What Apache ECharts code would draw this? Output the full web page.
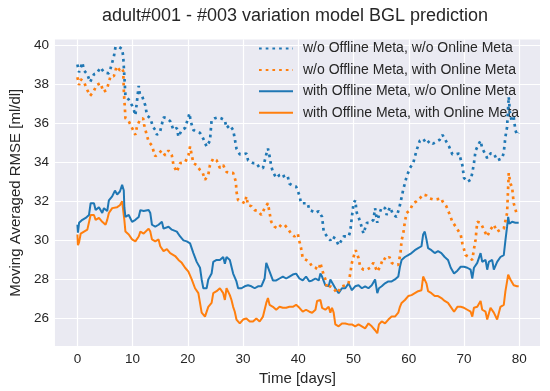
<!DOCTYPE html>
<html>
<head>
<meta charset="utf-8">
<script src="https://cdn.jsdelivr.net/npm/echarts@6/dist/echarts.min.js"></script>
<style>html,body{margin:0;padding:0;background:#fff}#c{width:550px;height:391px}</style>
</head>
<body>
<div id="c"></div>
<script>
// ---- data ----
const xTicks = [0, 10, 20, 30, 40, 50, 60, 70, 80];
const yTicks = [26, 28, 30, 32, 34, 36, 38, 40];
const seriesNames = [
  'w/o Offline Meta, w/o Online Meta',
  'w/o Offline Meta, with Online Meta',
  'with Offline Meta, w/o Online Meta',
  'with Offline Meta, with Online Meta'
];

// w/o Offline, w/o Online (blue dotted)
const aDays = [0,0.3,0.9,1.2,1.8,2.3,3,3.5,4.2,4.8,5.1,5.7,6,6.6,6.9,7.5,8.1,8.3,8.4,8.5,8.6,8.7,9.3,9.9,10.2,10.5,11.1,11.3,11.7,12.3,12.6,13.2,13.7,14.1,14.4,15,15.6,16.2,16.8,17.4,18,18.3,18.9,19.5,20.3,20.5,21,21.6,22.2,22.8,23.4,24,24.3,24.9,25.5,26,26.7,27,27.6,28.2,28.5,28.8,29.4,30,30.6,30.9,31.2,31.8,32.4,33,33.6,34.2,34.5,34.8,35.1,35.4,36,36.6,37.2,37.5,38.1,38.4,39,39.6,40.2,40.5,41.1,41.7,42,42.5,43.1,43.7,44.3,44.6,45.2,45.8,46.1,46.7,47.3,47.6,48.2,48.5,49.1,49.4,49.7,50,50.3,50.6,50.9,51.2,51.8,52.4,53,53.6,53.9,54.3,54.6,55.1,55.7,56,56.6,57.2,57.8,58.4,59,59.6,60.2,60.8,61.4,62,62.6,63.2,63.8,64.4,65,65.6,66.1,66.8,67.3,67.9,68.5,69.1,69.7,70,70.6,71.2,71.5,71.8,72.1,72.7,73,73.3,73.9,74.2,74.8,75.4,76,76.9,77.2,77.5,77.8,78,78.1,78.3,78.6,79,79.3,79.6,79.9];
const aVals = [39.0,38.6,39.1,38.7,38.5,38.1,38.5,38.55,38.85,38.6,38.7,38.55,38.8,39.4,39.9,39.9,39.8,39.4,38.9,38.4,37.9,37.4,37.2,36.9,36.7,36.4,37.9,37.5,37.4,36.9,36.4,36.25,35.8,35.65,35.4,35.6,36.3,36.25,36.1,35.65,35.75,35.3,35.65,35.75,36.5,36.1,35.65,35.55,35.5,35.2,34.8,35.1,36.15,36.25,36.3,36.25,36.15,35.75,35.9,35.65,35.2,34.7,34.4,34.4,34.45,34.1,34.2,33.95,33.95,33.7,33.7,34.4,34.7,34.3,33.8,33.5,33.2,33.35,33.4,33.2,33.25,32.9,32.8,32.75,32.3,31.9,31.9,31.9,31.55,31.5,31.4,31.5,31.2,30.45,30.2,30.0,30.2,30.1,29.75,29.7,30.2,30.1,30.2,30.45,31.2,31.9,32.05,31.4,31.2,30.95,30.35,30.9,30.9,31.05,31.65,30.9,31.3,31.7,31.65,31.3,31.7,31.3,31.2,31.8,32.6,33.25,33.7,33.95,34.6,35.1,35.2,34.95,35.1,34.95,35.05,35.15,35.4,35.05,34.8,34.4,34.4,34.45,33.85,33.2,33.0,33.1,33.45,33.95,34.6,34.95,35.1,34.7,34.4,34.2,34.45,34.45,34.1,34.2,34.5,35.3,35.8,36.85,37.35,36.6,36.15,36.3,35.65,35.4,35.5];

// w/o Offline, with Online (orange dotted)
const bDays = [0,0.3,0.6,1.2,1.7,2.3,2.9,3.5,4.2,4.7,5.3,6,6.6,7.1,7.7,8.1,8.3,8.4,8.5,8.6,8.7,9.3,9.9,10.5,10.8,11.3,11.9,12.1,12.5,12.9,13.5,13.8,14.1,14.7,15.3,15.9,16.5,17.1,17.4,18,18.6,19.5,20.1,20.4,21,21.6,22.2,22.7,23.1,23.7,24,24.6,25.2,25.8,26.4,27,27.6,28.2,28.7,28.8,29.1,29.7,30.3,30.6,30.9,31.5,32.1,32.7,33.3,33.6,33.9,34.5,34.8,35.1,35.7,36.3,36.9,37.5,38.1,38.7,39.3,39.9,40.2,40.5,40.8,41.4,42,42.5,43.1,43.7,44,44.3,44.9,45.2,45.8,46.4,47,47.3,47.9,48.5,49.1,49.4,49.7,50.2,50.4,50.9,51.2,51.8,52.4,53,53.6,53.9,54.3,54.8,55.4,56,56.5,56.9,57.5,58.1,58.5,58.7,59,59.3,59.6,60.2,60.8,61.4,62,62.6,63.2,63.8,64.4,65,65.9,66.1,66.8,67.3,67.9,68.5,69.4,69.7,70.3,70.9,71.5,71.8,72.1,72.4,73,73.6,74.2,74.8,75.4,76,76.6,77.2,77.5,77.8,78,78.1,78.4,78.7,79,79.3,79.6];
const bVals = [38.35,37.95,38.25,38.1,37.75,37.4,37.6,37.95,38.05,37.6,37.7,38.4,38.4,38.9,38.7,38.8,38.65,37.7,37.2,36.75,36.25,36.1,35.75,35.4,35.85,36.15,36.25,35.9,35.45,35.05,34.85,34.55,34.3,34.45,34.6,34.35,34.6,34.35,33.85,33.5,33.95,34.0,34.35,34.8,33.95,33.85,33.6,33.45,33.1,33.35,33.85,34.2,34.1,33.7,33.85,33.5,33.45,33.45,33.0,32.5,32.05,32.0,31.9,32.25,31.8,31.75,31.55,31.5,31.3,31.3,31.65,31.9,31.4,30.95,30.7,30.6,30.8,30.8,30.6,30.35,30.2,30.35,29.95,29.6,29.1,29.0,28.9,28.65,28.6,28.5,28.85,28.5,28.0,27.55,27.65,27.55,27.3,27.2,27.65,27.7,27.8,28.3,28.85,29.35,29.5,29.1,28.65,28.5,28.5,28.6,28.85,28.9,28.4,28.65,29.1,29.0,29.15,28.85,28.75,28.75,29.35,30.0,30.35,30.95,31.4,31.55,31.9,32.0,32.15,32.35,32.3,32.15,32.1,32.1,32.15,32.0,31.75,31.4,30.95,30.7,30.3,29.85,29.25,29.15,29.0,29.55,30.05,30.95,30.9,30.55,30.2,30.55,30.8,30.45,30.55,30.6,30.7,31.4,32.75,33.45,32.9,32.75,31.9,31.8,31.3];

// with Offline, w/o Online (blue solid)
const cDays = [0,0.1,0.3,0.9,1.5,2.1,2.4,3,3.3,3.9,4.5,4.8,5.4,5.7,6.3,6.8,7.2,7.7,8.1,8.4,8.5,8.7,9.3,9.9,10.5,11.1,11.4,12,12.9,13.2,13.5,14.1,14.7,15.3,15.6,16.5,17.1,18,18.6,19.2,19.8,20.4,21,21.6,22.2,22.5,22.8,23.4,23.7,24.3,24.6,25.2,25.8,26.4,26.7,27,27.6,27.9,28.2,28.8,29.1,29.7,30.3,30.9,31.5,32.1,32.7,33.3,33.9,34.2,34.5,34.8,35.4,36,36.6,37.2,37.8,38.4,39,39.6,40.2,40.8,41.4,42,42.5,43.1,43.7,44,44.3,44.9,45.5,45.8,46.1,46.7,47.3,47.9,48.5,49.1,49.7,50.3,50.9,51.5,52.1,52.7,53.3,53.9,54.3,54.6,55.1,55.7,56.3,56.9,57.5,58.1,58.4,58.7,59.3,59.9,60.5,61.1,61.7,62.3,62.6,62.9,63.2,63.5,64.1,64.7,65.3,65.9,66.5,67.1,67.6,68.2,68.8,69.4,70,70.6,71.2,71.5,71.8,72.4,73,73.3,73.9,74.2,74.5,75.1,75.4,76,76.6,77.2,77.5,77.8,78,78.2,78.7,79.3,79.9];
const cVals = [30.8,30.4,30.9,31.05,31.15,31.3,31.9,31.9,31.55,31.7,31.4,31.65,31.5,32.05,32.25,32.55,32.35,32.5,32.85,32.55,31.7,31.2,31.3,30.95,31.05,31.2,31.55,31.5,31.55,31.4,30.8,30.7,30.8,30.95,30.6,30.7,30.55,30.45,30.2,30.0,29.95,29.85,29.35,28.9,28.6,28.0,27.55,27.55,28.0,28.3,28.9,29.0,29.0,29.15,28.8,29.15,29.0,28.65,28.3,27.9,27.55,27.55,27.65,27.7,27.65,27.55,27.65,27.65,28.05,28.85,28.9,28.4,27.95,27.95,28.05,28.15,28.05,28.15,28.25,28.3,28.05,27.95,28.15,27.9,27.95,28.05,27.95,28.3,28.15,27.7,27.65,28.0,27.9,27.55,27.3,27.55,27.55,27.8,27.45,27.65,27.7,27.55,27.65,27.55,27.7,28.0,27.3,27.55,27.65,27.8,27.9,27.9,28.0,28.15,28.65,29.0,29.15,29.25,29.35,29.5,29.6,29.7,30.3,30.45,30.05,29.6,29.5,29.35,29.45,29.35,29.15,29.0,28.6,28.3,28.45,28.65,28.65,28.6,28.5,28.05,28.6,28.85,29.35,28.9,29.0,28.5,28.9,29.0,28.5,28.9,29.15,29.25,30.0,30.7,31.2,30.85,30.95,30.9,30.9];

// with Offline, with Online (orange solid)
const dDays = [0,0.1,0.3,0.6,1.2,1.8,2.4,3,3.3,3.9,4.5,5.1,5.4,5.7,6.3,6.6,7.2,7.7,8.1,8.4,8.5,8.7,9.3,9.9,10.5,11.1,11.4,12,12.9,13.2,13.5,14.1,14.7,15,15.6,16.2,16.8,17.7,18.3,18.9,19.5,20.1,20.7,21.3,21.9,22.2,22.5,23.1,23.4,23.7,24.3,24.6,25.2,25.8,26.4,26.7,27,27.6,27.9,28.2,28.5,28.8,29.4,30,30.6,31.2,31.8,32.4,33,33.6,34.2,34.5,34.8,35.4,36,36.6,37.2,37.8,38.4,39,39.6,40.2,40.8,41.4,42,42.5,43.1,43.4,44,44.3,44.9,45.5,45.8,46.1,46.4,46.7,47.3,47.9,48.5,49.1,49.7,50.3,50.9,51.5,52.1,52.7,53.3,53.9,54.3,54.6,55.1,55.7,56.3,56.9,57.5,58.1,58.4,58.7,59.3,59.9,60.5,61.1,61.7,62.3,62.6,62.9,63.2,63.5,64.1,64.7,65.3,65.9,66.5,67.1,67.6,68.2,68.8,69.4,70,70.6,71.2,71.5,71.8,72.4,73,73.3,73.9,74.2,74.8,75.4,76,76.6,77.2,77.5,77.8,78,78.4,79,79.6,79.9];
const dVals = [30.3,29.75,29.9,30.35,30.45,30.55,31.3,31.3,31.05,31.15,30.95,30.8,31.05,31.4,31.65,31.55,31.7,31.8,32.0,31.9,31.05,30.45,30.3,30.05,29.95,30.2,30.45,30.35,30.6,30.45,30.05,29.95,30.05,29.7,29.45,29.55,29.35,29.2,29.0,28.85,28.6,28.4,28.0,27.55,27.3,26.8,26.3,26.1,26.2,26.6,26.8,27.3,27.4,27.55,27.3,26.95,27.55,27.2,26.95,26.6,26.35,25.95,25.75,25.95,26.0,25.85,25.85,26.0,25.85,26.1,26.8,27.05,26.7,26.6,26.45,26.6,26.55,26.55,26.6,26.6,26.7,26.55,26.35,26.45,26.35,26.3,26.45,26.9,26.95,26.55,26.45,26.6,26.3,26.55,26.3,25.7,25.6,25.75,25.75,25.7,25.7,25.6,25.7,25.6,25.5,25.75,25.6,25.4,25.25,25.7,25.85,25.75,25.95,26.1,26.1,26.3,26.6,26.8,26.95,27.15,27.2,27.3,27.4,27.45,28.15,28.2,27.8,27.4,27.3,27.15,27.15,27.05,26.9,26.8,26.6,26.35,26.6,26.6,26.55,26.45,26.35,26.1,26.55,26.6,26.9,26.45,26.35,25.95,26.55,26.3,25.95,26.6,26.7,27.4,27.9,28.25,28.0,27.7,27.65,27.65];

const pair = (xs, ys) => xs.map((x, i) => [x, ys[i]]);

const BLUE = '#1f77b4', ORANGE = '#ff7f0e';
const FONT = "'Liberation Sans', Arial, sans-serif";
const TXT = '#262626';

const chart = echarts.init(document.getElementById('c'), null, {renderer: 'canvas'});
const dotted = {type: [2.7, 4], width: 2.7, cap: 'butt'};
chart.setOption({
  backgroundColor: '#ffffff',
  animation: false,
  textStyle: {fontFamily: FONT},
  title: {
    text: 'adult#001 - #003 variation model BGL prediction',
    left: 295, top: 7, padding: 0, textAlign: 'center',
    textStyle: {fontFamily: FONT, fontSize: 18, fontWeight: 'normal', color: TXT}
  },
  legend: {
    left: 258, top: 41.5, orient: 'vertical', padding: 0,
    itemWidth: 34, itemHeight: 14, itemGap: 7.4,
    itemStyle: {color: 'transparent', borderWidth: 0, opacity: 0},
    textStyle: {fontFamily: FONT, fontSize: 14, color: TXT, padding: [0, 0, 0, 5]},
    data: seriesNames
  },
  grid: {left: 50, right: 10, top: 39.5, bottom: 44, show: true, backgroundColor: '#EAEAF2', borderWidth: 0},
  xAxis: {
    type: 'value', min: -4.07, max: 83.76,
    name: 'Time [days]', nameLocation: 'middle', nameGap: 24,
    nameTextStyle: {fontFamily: FONT, fontSize: 15, color: TXT},
    axisLine: {show: false}, axisTick: {show: false, customValues: xTicks},
    axisLabel: {customValues: xTicks, fontFamily: FONT, fontSize: 13.5, color: TXT, margin: 6},
    splitLine: {show: true, lineStyle: {color: '#ffffff', width: 1.2}}
  },
  yAxis: {
    type: 'value', min: 24.59, max: 40.28,
    name: 'Moving Averaged RMSE [ml/dl]', nameLocation: 'middle', nameGap: 28,
    nameTextStyle: {fontFamily: FONT, fontSize: 15, color: TXT},
    axisLine: {show: false}, axisTick: {show: false, customValues: yTicks},
    axisLabel: {customValues: yTicks, fontFamily: FONT, fontSize: 13.5, color: TXT, margin: 6},
    splitLine: {show: true, lineStyle: {color: '#ffffff', width: 1.2}}
  },
  series: [
    {name: seriesNames[0], type: 'line', symbol: 'none', data: pair(aDays, aVals), color: BLUE, lineStyle: Object.assign({color: BLUE}, dotted), z: 4},
    {name: seriesNames[1], type: 'line', symbol: 'none', data: pair(bDays, bVals), color: ORANGE, lineStyle: Object.assign({color: ORANGE}, dotted), z: 3},
    {name: seriesNames[2], type: 'line', symbol: 'none', data: pair(cDays, cVals), color: BLUE, lineStyle: {color: BLUE, width: 2}, z: 2},
    {name: seriesNames[3], type: 'line', symbol: 'none', data: pair(dDays, dVals), color: ORANGE, lineStyle: {color: ORANGE, width: 2}, z: 1}
  ]
});
</script>
</body>
</html>
